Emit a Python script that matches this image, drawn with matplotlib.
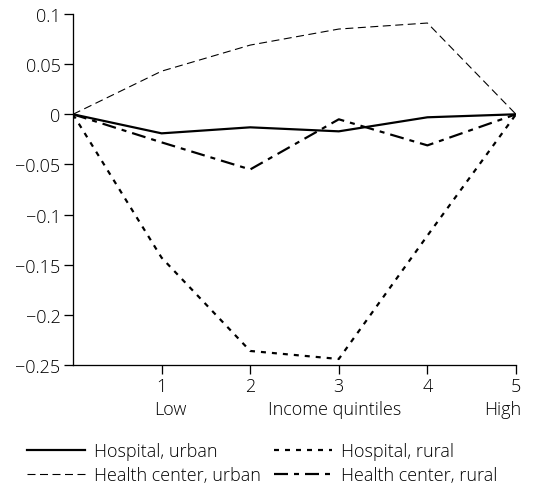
import matplotlib.pyplot as plt
import matplotlib.transforms as mtransforms

plt.rcParams['font.family'] = ['Open Sans', 'DejaVu Sans']
plt.rcParams['font.weight'] = 'light'
plt.rcParams['lines.scale_dashes'] = False

# data
quintiles = [0, 1, 2, 3, 4, 5]
hospital_urban = [0, -0.019, -0.013, -0.017, -0.003, 0]
hospital_rural = [0, -0.143, -0.236, -0.244, -0.121, 0]
center_urban = [0, 0.043, 0.069, 0.085, 0.091, 0]
center_rural = [0, -0.028, -0.055, -0.005, -0.031, 0]
ytick_vals = [0.1, 0.05, 0, -0.05, -0.1, -0.15, -0.2, -0.25]
ytick_labels = ['0.1', '0.05', '0', '\u22120.05', '\u22120.1', '\u22120.15', '\u22120.2', '\u22120.25']

fs = 13
fig = plt.figure(figsize=(5.38, 4.85), dpi=100)
ax = fig.add_axes([73/538, 1 - 366/485, (516 - 73)/538, (366 - 15)/485])

px = 0.72  # points per pixel
l1, = ax.plot(quintiles, hospital_urban, color='black', lw=2.2*px, solid_joinstyle='miter')
l3, = ax.plot(quintiles, hospital_rural, color='black', lw=2.2*px,
              dashes=(5*px, 6*px), dash_capstyle='butt')
l2, = ax.plot(quintiles, center_urban, color='black', lw=1.1*px,
              dashes=(8*px, 4.5*px))
l4, = ax.plot(quintiles, center_rural, color='black', lw=2.2*px,
              dashes=(14*px, 6*px, 5*px, 6*px))

ax.set_xlim(0, 5)
ax.set_ylim(-0.25, 0.1)
ax.set_xticks([1, 2, 3, 4, 5])
ax.set_xticklabels(['1', '2', '3', '4', '5'])
ax.set_yticks(ytick_vals)
ax.set_yticklabels(ytick_labels)
for s in ['top', 'right']:
    ax.spines[s].set_visible(False)
for s in ['left', 'bottom']:
    ax.spines[s].set_linewidth(1.3*px)
ax.tick_params(axis='both', direction='out', length=9*px, width=1.3*px,
               labelsize=fs, colors='black', pad=2.5)

trans = mtransforms.blended_transform_factory(ax.transData, fig.transFigure)
ty = 1 - 410/485
ax.text(1.1, ty, 'Low', transform=trans, fontsize=fs, ha='center', va='center')
ax.text(2.95, ty, 'Income quintiles', transform=trans, fontsize=fs, ha='center', va='center')
ax.text(5.06, ty, 'High', transform=trans, fontsize=fs, ha='right', va='center')

fig.legend([l1, l2, l3, l4],
           ['Hospital, urban', 'Health center, urban', 'Hospital, rural', 'Health center, rural'],
           ncol=2, loc='upper left', bbox_to_anchor=(27/538, 1 - 443/485),
           frameon=False, fontsize=fs, handlelength=3.2, handletextpad=0.5,
           columnspacing=0.75, labelspacing=0.35, borderpad=0, borderaxespad=0)

fig.savefig('out.png', dpi=100)
